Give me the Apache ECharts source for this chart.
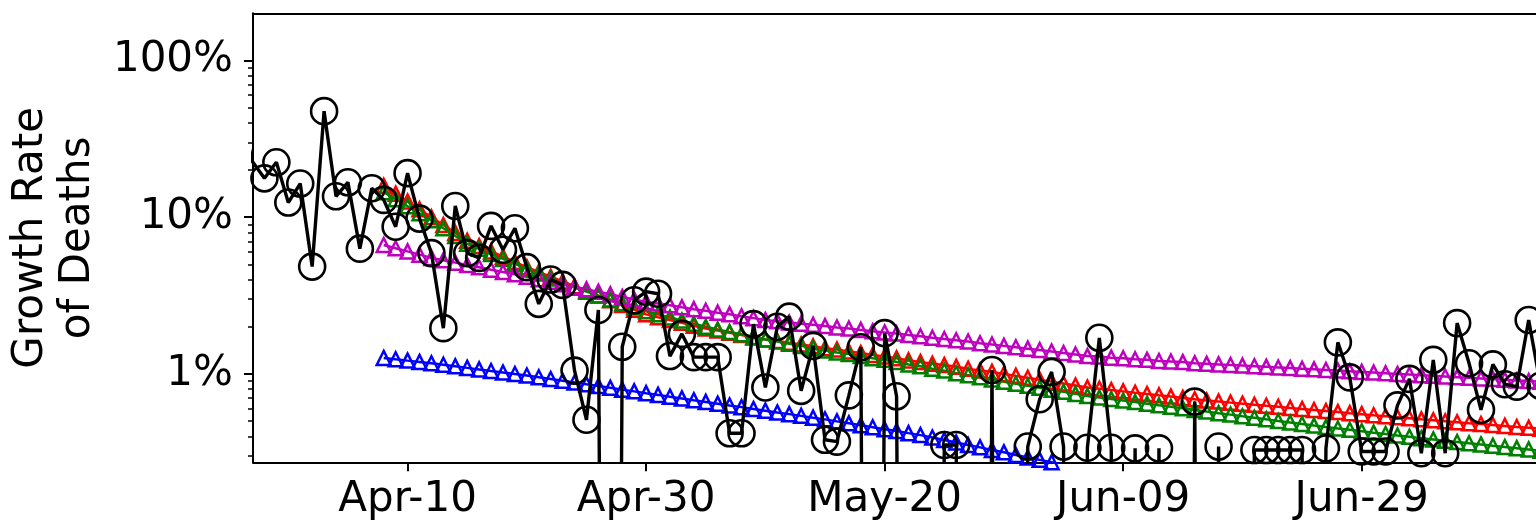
<!DOCTYPE html>
<html>
<head>
<meta charset="utf-8">
<script src="https://cdn.jsdelivr.net/npm/echarts@6/dist/echarts.min.js"></script>
<style>
  html, body { margin: 0; padding: 0; background: #fff; overflow: hidden; width: 1536px; height: 530px; }
  #chart { width: 1576px; height: 530px; }
</style>
</head>
<body>
<div id="chart"></div>
<script>
// Days are counted from Apr-10 (day 0).
const tickDays = [0, 20, 40, 60, 80];
const tickLabels = ['Apr-10', 'Apr-30', 'May-20', 'Jun-09', 'Jun-29'];
const yTickValues = [1, 10, 100];
const yMinorTickValues = [0.3, 0.4, 0.5, 0.6, 0.7, 0.8, 0.9, 2, 3, 4, 5, 6, 7, 8, 9, 20, 30, 40, 50, 60, 70, 80, 90];

// Observed daily growth rate of deaths (%), one value per day from Mar-27 (day -14); 0 = no growth
const deathStartDay = -14;
const deathGrowth = [
  46.5, 22.6, 17.7, 22.4, 12.4, 16.4, 4.84, 47.5, 13.6, 16.7,
  6.3, 15.3, 12.9, 8.7, 19.1, 9.8, 5.9, 1.96, 11.8, 5.9,
  5.5, 8.8, 6.2, 8.5, 4.8, 2.8, 4.0, 3.7, 1.05, 0.51,
  2.56, 0, 1.49, 2.95, 3.35, 3.25, 1.3, 1.8, 1.28, 1.28,
  1.28, 0.418, 0.418, 2.08, 0.82, 2.0, 2.32, 0.78, 1.51, 0.38,
  0.37, 0.73, 1.48, 0, 1.82, 0.72, 0, 0, 0, 0.352,
  0.352, 0, 0, 1.06, 0, 0, 0.344, 0.69, 1.03, 0.344,
  0, 0.338, 1.7, 0.338, 0, 0.335, 0, 0.335, 0, 0,
  0.666, 0, 0.344, 0, 0, 0.327, 0.327, 0.327, 0.327, 0.327,
  0, 0.335, 1.59, 0.95, 0.32, 0.32, 0.32, 0.63, 0.93, 0.312,
  1.23, 0.312, 2.11, 1.17, 0.59, 1.15, 0.86, 0.83, 2.21, 0.84
];

// Fitted curves (%), one value per day from Apr-08 (day -2)
const fitStartDay = -2;
const fitRed = [
  15.85, 14.13, 12.59, 11.22, 10.0, 8.91, 7.94, 7.08, 6.55, 6.05,
  5.60, 5.18, 4.79, 4.47, 4.17, 3.89, 3.63, 3.39, 3.16, 2.95,
  2.75, 2.57, 2.40, 2.30, 2.21, 2.12, 2.03, 1.95, 1.89, 1.83,
  1.77, 1.71, 1.66, 1.62, 1.58, 1.54, 1.50, 1.46, 1.43, 1.39,
  1.36, 1.32, 1.29, 1.26, 1.22, 1.19, 1.16, 1.14, 1.11, 1.08,
  1.05, 1.03, 1.00, 0.972, 0.945, 0.919, 0.893, 0.868, 0.844, 0.820,
  0.805, 0.789, 0.774, 0.759, 0.745, 0.730, 0.717, 0.703, 0.689, 0.676,
  0.666, 0.656, 0.646, 0.636, 0.626, 0.617, 0.607, 0.598, 0.589, 0.580,
  0.571, 0.562, 0.554, 0.545, 0.537, 0.529, 0.521, 0.513, 0.506, 0.499,
  0.492, 0.485, 0.479, 0.472, 0.466, 0.459, 0.453, 0.447
];
const fitGreen = [
  14.45, 13.03, 11.75, 10.59, 9.55, 8.51, 7.59, 6.76, 6.28, 5.83,
  5.42, 5.04, 4.68, 4.37, 4.07, 3.80, 3.55, 3.35, 3.16, 2.99,
  2.82, 2.66, 2.51, 2.40, 2.29, 2.19, 2.09, 2.00, 1.92, 1.85,
  1.79, 1.72, 1.66, 1.61, 1.56, 1.51, 1.46, 1.41, 1.37, 1.34,
  1.30, 1.26, 1.23, 1.19, 1.15, 1.12, 1.08, 1.05, 1.01, 0.982,
  0.951, 0.920, 0.891, 0.865, 0.840, 0.816, 0.792, 0.769, 0.746, 0.724,
  0.708, 0.692, 0.676, 0.661, 0.646, 0.631, 0.617, 0.603, 0.589, 0.575,
  0.562, 0.550, 0.537, 0.525, 0.513, 0.501, 0.490, 0.479, 0.468, 0.458,
  0.449, 0.440, 0.431, 0.422, 0.414, 0.405, 0.397, 0.389, 0.382, 0.375,
  0.368, 0.361, 0.355, 0.348, 0.342, 0.336, 0.330, 0.324
];
const fitMagenta = [
  6.65, 6.34, 6.05, 5.77, 5.50, 5.31, 5.13, 4.95, 4.79, 4.62,
  4.47, 4.32, 4.17, 4.02, 3.87, 3.73, 3.60, 3.47, 3.34, 3.22,
  3.10, 2.99, 2.88, 2.81, 2.74, 2.66, 2.59, 2.53, 2.46, 2.40,
  2.33, 2.27, 2.21, 2.17, 2.13, 2.09, 2.06, 2.02, 1.98, 1.95,
  1.91, 1.87, 1.84, 1.81, 1.77, 1.74, 1.70, 1.67, 1.64, 1.61,
  1.57, 1.54, 1.51, 1.48, 1.45, 1.42, 1.39, 1.36, 1.33, 1.30,
  1.29, 1.27, 1.26, 1.24, 1.23, 1.21, 1.20, 1.19, 1.17, 1.16,
  1.15, 1.14, 1.13, 1.12, 1.11, 1.10, 1.09, 1.08, 1.07, 1.06,
  1.05, 1.04, 1.03, 1.02, 1.01, 1.00, 0.992, 0.982, 0.972, 0.963,
  0.954, 0.945, 0.936, 0.927, 0.918, 0.909, 0.900, 0.891
];
const fitBlue = [
  1.265, 1.240, 1.216, 1.193, 1.170, 1.144, 1.118, 1.093, 1.069, 1.045,
  1.022, 0.999, 0.977, 0.952, 0.928, 0.904, 0.881, 0.858, 0.837, 0.815,
  0.794, 0.774, 0.754, 0.735, 0.716, 0.698, 0.680, 0.663, 0.646, 0.629,
  0.614, 0.598, 0.583, 0.568, 0.554, 0.540, 0.526, 0.513, 0.498, 0.484,
  0.470, 0.457, 0.444, 0.432, 0.419, 0.407, 0.393, 0.379, 0.365, 0.352,
  0.340, 0.327, 0.316, 0.304, 0.293, 0.283, 0.273, 0.263, 0.254, 0.244,
  0.236
];

const FONT = 'DejaVu Sans';
const TINY = 1e-12; // non-positive values are pushed far below the log axis (clipped)
const X_MIN = -12.96, X_MAX = 96.29;
const Y_MIN = 0.273, Y_MAX = 200;

function toPairs(start, values) {
  return values.map((v, i) => [start + i, v > 0 ? v : TINY]);
}

function fitSeries(values, color) {
  return {
    type: 'line',
    data: toPairs(fitStartDay, values),
    symbol: 'triangle',
    symbolSize: [14, 14],
    showSymbol: true,
    clip: true,
    lineStyle: { color: color, width: 2.5 },
    itemStyle: { color: 'rgba(0,0,0,0)', borderColor: color, borderWidth: 2.5 },
    emphasis: { disabled: true },
    z: 2
  };
}

const chart = echarts.init(document.getElementById('chart'), null, { renderer: 'canvas' });
chart.setOption({
  animation: false,
  backgroundColor: '#fff',
  grid: {
    left: 252.7, top: 13.3, right: 20, bottom: 67.7,
    show: false
  },
  xAxis: [
    {
      type: 'value', position: 'bottom',
      min: X_MIN, max: X_MAX,
      axisLine: { show: true, onZero: false, lineStyle: { color: '#000', width: 2 } },
      splitLine: { show: false },
      axisTick: {
        show: true, inside: false, length: 9,
        customValues: tickDays,
        lineStyle: { color: '#000', width: 2 }
      },
      axisLabel: {
        customValues: tickDays,
        formatter: v => tickLabels[tickDays.indexOf(Math.round(v))] || '',
        fontFamily: FONT, fontSize: 42, color: '#000', margin: 17
      }
    },
    {
      type: 'value', position: 'top',
      min: X_MIN, max: X_MAX,
      axisLine: { show: true, onZero: false, lineStyle: { color: '#000', width: 2 } },
      splitLine: { show: false },
      axisTick: { show: false },
      axisLabel: { show: false }
    }
  ],
  yAxis: [
    {
      type: 'log', logBase: 10, min: Y_MIN, max: Y_MAX, position: 'left',
      name: 'Growth Rate\nof Deaths',
      nameLocation: 'middle', nameRotate: 90, nameGap: 151,
      nameTextStyle: { fontFamily: FONT, fontSize: 42, color: '#000', lineHeight: 47, align: 'center' },
      axisLine: { show: true, onZero: false, lineStyle: { color: '#000', width: 2 } },
      splitLine: { show: false },
      axisTick: {
        show: true, inside: false, length: 9,
        customValues: yTickValues,
        lineStyle: { color: '#000', width: 2 }
      },
      axisLabel: {
        customValues: yTickValues,
        formatter: v => v + '%',
        fontFamily: FONT, fontSize: 42, color: '#000', margin: 20
      }
    },
    {
      type: 'log', logBase: 10, min: Y_MIN, max: Y_MAX, position: 'left',
      axisLine: { show: false, onZero: false },
      splitLine: { show: false },
      axisLabel: { show: false },
      axisTick: {
        show: true, inside: false, length: 5,
        customValues: yMinorTickValues,
        lineStyle: { color: '#000', width: 1.5 }
      }
    }
  ],
  series: [
    fitSeries(fitRed, '#ff0000'),
    fitSeries(fitGreen, '#008000'),
    fitSeries(fitMagenta, '#bf00bf'),
    fitSeries(fitBlue, '#0000ff'),
    {
      type: 'line',
      data: toPairs(deathStartDay, deathGrowth),
      symbol: 'circle',
      symbolSize: 26,
      showSymbol: true,
      clip: true,
      lineStyle: { color: '#000', width: 3.4 },
      itemStyle: { color: 'rgba(0,0,0,0)', borderColor: '#000', borderWidth: 2.6 },
      emphasis: { disabled: true },
      z: 3
    }
  ]
});
</script>
</body>
</html>
